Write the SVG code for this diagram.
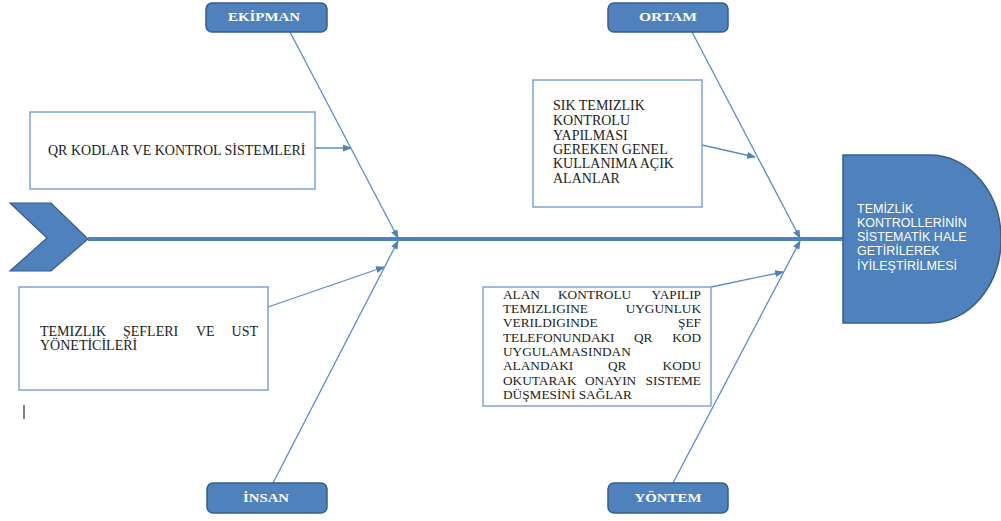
<svg xmlns="http://www.w3.org/2000/svg" width="1001" height="521" viewBox="0 0 1001 521">
<style>
.cat{fill:#4F81BD;stroke:#385D8A;stroke-width:1.5}
.catt{font-family:"Liberation Serif","Times New Roman",serif;font-weight:bold;font-size:13px;fill:#fff;text-anchor:middle}
.box{fill:#fff;stroke:#7BA3D9;stroke-width:1.5}
.bt{font-family:"Liberation Serif","Times New Roman",serif;font-size:14px;fill:#222}
.bs{font-family:"Liberation Serif","Times New Roman",serif;font-size:13.3px;fill:#222}
.e{text-anchor:end}
.eff{font-family:"Liberation Sans",sans-serif;font-size:12.5px;fill:#fff}
.con{stroke:#5B8CCB;stroke-width:1.3;fill:none}
</style>
<defs>
<marker id="ah" markerWidth="9" markerHeight="7" refX="8" refY="3.5" orient="auto" markerUnits="userSpaceOnUse">
<path d="M0,0 L9,3.5 L0,7 Z" fill="#4F81BD"/>
</marker>
</defs>
<rect width="1001" height="521" fill="#fff"/>
<g id="connectors">
<line x1="88" y1="239" x2="845" y2="239" stroke="#4F81BD" stroke-width="4"/>
<line class="con" x1="290" y1="32" x2="398" y2="238" marker-end="url(#ah)"/>
<line class="con" x1="315" y1="148" x2="351" y2="148" marker-end="url(#ah)"/>
<line class="con" x1="273" y1="483" x2="398" y2="241" marker-end="url(#ah)"/>
<line class="con" x1="268" y1="307" x2="384" y2="267" marker-end="url(#ah)"/>
<line class="con" x1="692" y1="32" x2="800" y2="238" marker-end="url(#ah)"/>
<line class="con" x1="702" y1="145" x2="755" y2="157" marker-end="url(#ah)"/>
<line class="con" x1="673" y1="483" x2="800" y2="241" marker-end="url(#ah)"/>
<line class="con" x1="711" y1="287" x2="783" y2="272" marker-end="url(#ah)"/>
</g>
<g id="tail">
<path d="M10,203 L51,203 L88,239 L51,271 L10,271 L47,238 Z" fill="#4F81BD" stroke="#385D8A" stroke-width="1.2"/>
</g>
<g id="effect">
<path d="M843,155 L930,155 A71,84 0 0 1 930,323 L843,323 Z" fill="#4F81BD" stroke="#385D8A" stroke-width="1.5"/>
<text class="eff" x="857" y="213">TEMİZLİK</text>
<text class="eff" x="857" y="227">KONTROLLERİNİN</text>
<text class="eff" x="857" y="241">SİSTEMATİK HALE</text>
<text class="eff" x="857" y="255">GETİRİLEREK</text>
<text class="eff" x="857" y="270">İYİLEŞTİRİLMESİ</text>
</g>
<g id="ekipman">
<rect class="cat" x="206" y="3" width="121" height="29" rx="6"/>
<text class="catt" x="264" y="21" textLength="72" lengthAdjust="spacingAndGlyphs">EKİPMAN</text>
</g>
<g id="ortam">
<rect class="cat" x="608" y="3" width="120" height="29" rx="6"/>
<text class="catt" x="668" y="21" textLength="58" lengthAdjust="spacingAndGlyphs">ORTAM</text>
</g>
<g id="insan">
<rect class="cat" x="207" y="483" width="120" height="30" rx="6"/>
<text class="catt" x="266" y="502" textLength="46" lengthAdjust="spacingAndGlyphs">İNSAN</text>
</g>
<g id="yontem">
<rect class="cat" x="608" y="483" width="120" height="30" rx="6"/>
<text class="catt" x="668" y="502" textLength="67" lengthAdjust="spacingAndGlyphs">YÖNTEM</text>
</g>
<g id="qr-box">
<rect class="box" x="30" y="112" width="285" height="77"/>
<text class="bt" x="48" y="155">QR KODLAR VE KONTROL SİSTEMLERİ</text>
</g>
<g id="sik-box">
<rect class="box" x="533" y="80" width="169" height="127"/>
<text class="bt" x="553" y="110">SIK TEMIZLIK</text>
<text class="bt" x="553" y="125">KONTROLU</text>
<text class="bt" x="553" y="140">YAPILMASI</text>
<text class="bt" x="553" y="154">GEREKEN GENEL</text>
<text class="bt" x="553" y="168">KULLANIMA AÇIK</text>
<text class="bt" x="553" y="183">ALANLAR</text>
</g>
<g id="alan-box">
<rect class="box" x="483" y="287" width="228" height="119"/>
<text class="bs" x="503" y="299">ALAN</text>
<text class="bs" x="558" y="299">KONTROLU</text>
<text class="bs e" x="701" y="299">YAPILIP</text>
<text class="bs" x="503" y="313">TEMIZLIGINE</text>
<text class="bs e" x="701" y="313">UYGUNLUK</text>
<text class="bs" x="503" y="327">VERILDIGINDE</text>
<text class="bs e" x="701" y="327">ŞEF</text>
<text class="bs" x="503" y="342">TELEFONUNDAKI</text>
<text class="bs" x="634" y="342">QR</text>
<text class="bs e" x="701" y="342">KOD</text>
<text class="bs" x="503" y="356">UYGULAMASINDAN</text>
<text class="bs" x="503" y="370">ALANDAKI</text>
<text class="bs" x="608" y="370">QR</text>
<text class="bs e" x="701" y="370">KODU</text>
<text class="bs" x="503" y="385">OKUTARAK</text>
<text class="bs" x="585" y="385">ONAYIN</text>
<text class="bs e" x="701" y="385">SISTEME</text>
<text class="bs" x="503" y="399">DÜŞMESİNİ SAĞLAR</text>
</g>
<g id="temizlik-box">
<rect class="box" x="19" y="287" width="249" height="103"/>
<text class="bt" x="40" y="336">TEMIZLIK</text>
<text class="bt" x="123" y="336">ŞEFLERI</text>
<text class="bt" x="196" y="336">VE</text>
<text class="bt e" x="258" y="336">UST</text>
<text class="bt" x="40" y="350">YÖNETİCİLERİ</text>
</g>
<line x1="24" y1="405" x2="24" y2="419" stroke="#333" stroke-width="1.2"/>
</svg>
